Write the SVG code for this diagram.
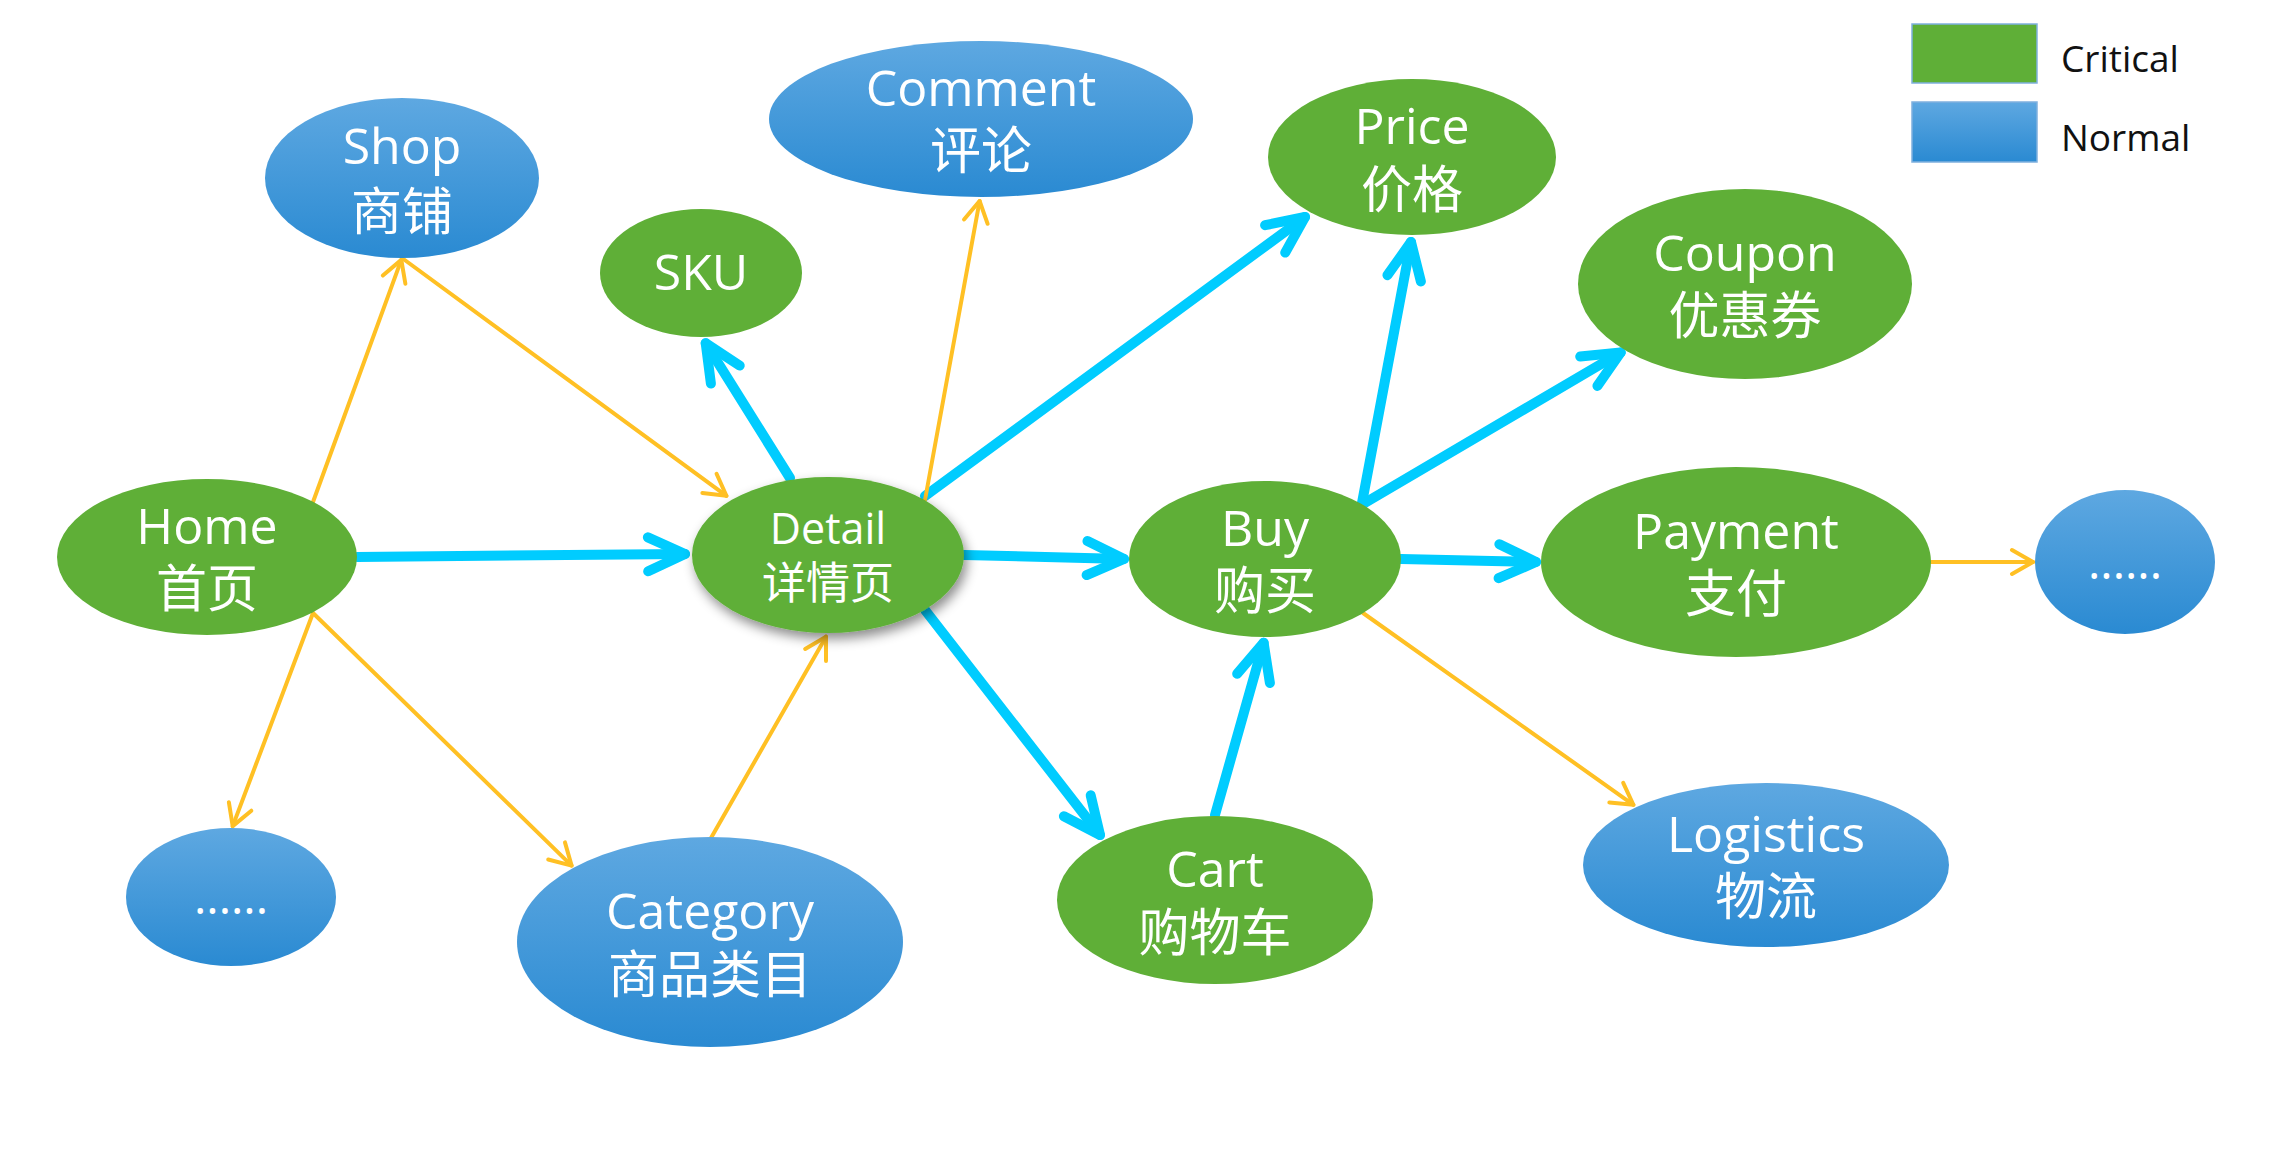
<svg xmlns="http://www.w3.org/2000/svg" width="2284" height="1158" viewBox="0 0 2284 1158">
  <style>
    .crit { fill: #5FAF37; }
    .norm { fill: url(#blueGrad); }
    .lbl { fill: #FFFFFF; font-family: 'Open Sans', 'Noto Sans CJK SC', sans-serif; text-anchor: middle; }
    .en { font-size: 50px; }
    .zh { font-size: 51px; font-family: 'Noto Sans CJK SC', sans-serif; }
    .blue { stroke: #00CCFF; stroke-width: 10; stroke-linecap: round; fill: none; marker-end: url(#ahBlue); }
    .gold { stroke: #FFC024; stroke-width: 4; stroke-linecap: round; fill: none; marker-end: url(#ahGold); }
    .leg { font-family: 'Open Sans', 'Liberation Sans', sans-serif; font-size: 37px; fill: #111111; }
  </style>
  <defs>
    <linearGradient id="blueGrad" x1="0" y1="0" x2="0" y2="1">
      <stop offset="0" stop-color="#5EA8E1"/>
      <stop offset="1" stop-color="#2A8AD2"/>
    </linearGradient>
    <filter id="shadow" x="-20%" y="-20%" width="150%" height="160%">
      <feDropShadow dx="3" dy="6" stdDeviation="6" flood-color="#000000" flood-opacity="0.45"/>
    </filter>
    <marker id="ahBlue" markerUnits="userSpaceOnUse" orient="auto" markerWidth="1" markerHeight="1" refX="0" refY="0" overflow="visible">
      <path d="M-37,-17 L0,0 L-37,17" fill="none" stroke="#00CCFF" stroke-width="10" stroke-linecap="round" stroke-linejoin="round"/>
    </marker>
    <marker id="ahGold" markerUnits="userSpaceOnUse" orient="auto" markerWidth="1" markerHeight="1" refX="0" refY="0" overflow="visible">
      <path d="M-21,-12 L0,0 L-21,12" fill="none" stroke="#FFC024" stroke-width="4" stroke-linecap="round" stroke-linejoin="round"/>
    </marker>
  </defs>

  <rect x="0" y="0" width="2284" height="1158" fill="#FFFFFF"/>

  <g id="connectors">
    <!-- critical (blue) -->
    <path class="blue" d="M357,557 L685,554"/>
    <path class="blue" d="M790,478 L705.7,343.2"/>
    <path class="blue" d="M925,496 L1305,217"/>
    <path class="blue" d="M964,555 L1124,559"/>
    <path class="blue" d="M925,610 L1100,835"/>
    <path class="blue" d="M1215,815 L1263.6,642.8"/>
    <path class="blue" d="M1362,503 L1411,242"/>
    <path class="blue" d="M1363,504 L1620.7,352.5"/>
    <path class="blue" d="M1401,559 L1536,562"/>
    <!-- normal (gold) -->
    <path class="gold" d="M313,502 L401.3,259.9"/>
    <path class="gold" d="M402,258 L726.4,495.8"/>
    <path class="gold" d="M313,613 L232.7,826.1"/>
    <path class="gold" d="M313,613 L571.6,865.6"/>
    <path class="gold" d="M711,838 L826,636.7"/>
    <path class="gold" d="M925,500 L979.6,201"/>
    <path class="gold" d="M1363,613 L1633.4,804.8"/>
    <path class="gold" d="M1931,562 L2033,562"/>
  </g>

  <g id="node-home">
    <ellipse class="crit" cx="207" cy="557" rx="150" ry="78"/>
    <text class="lbl"><tspan class="en" x="207" y="544">Home</tspan><tspan class="zh" x="207" y="607">首页</tspan></text>
  </g>

  <g id="node-shop">
    <ellipse class="norm" cx="402" cy="178" rx="137" ry="80"/>
    <text class="lbl"><tspan class="en" x="402" y="164">Shop</tspan><tspan class="zh" x="402" y="230">商铺</tspan></text>
  </g>

  <g id="node-sku">
    <ellipse class="crit" cx="701" cy="273" rx="101" ry="64"/>
    <text class="lbl en" x="701" y="290">SKU</text>
  </g>

  <g id="node-comment">
    <ellipse class="norm" cx="981" cy="119" rx="212" ry="78"/>
    <text class="lbl"><tspan class="en" x="981" y="106">Comment</tspan><tspan class="zh" x="981" y="169">评论</tspan></text>
  </g>

  <g id="node-price">
    <ellipse class="crit" cx="1412" cy="157" rx="144" ry="78"/>
    <text class="lbl"><tspan class="en" x="1412" y="144">Price</tspan><tspan class="zh" x="1412" y="208">价格</tspan></text>
  </g>

  <g id="node-coupon">
    <ellipse class="crit" cx="1745" cy="284" rx="167" ry="95"/>
    <text class="lbl"><tspan class="en" x="1745" y="271">Coupon</tspan><tspan class="zh" x="1745" y="334">优惠券</tspan></text>
  </g>

  <g id="node-detail">
    <ellipse class="crit" cx="828" cy="555" rx="136" ry="78" filter="url(#shadow)"/>
    <text class="lbl"><tspan x="828" y="544" style="font-size:43px">Detail</tspan><tspan x="828" y="599" style="font-size:44px;font-family:'Noto Sans CJK SC', sans-serif">详情页</tspan></text>
  </g>

  <g id="node-buy">
    <ellipse class="crit" cx="1265" cy="559" rx="136" ry="78"/>
    <text class="lbl"><tspan class="en" x="1265" y="546">Buy</tspan><tspan class="zh" x="1265" y="609">购买</tspan></text>
  </g>

  <g id="node-payment">
    <ellipse class="crit" cx="1736" cy="562" rx="195" ry="95"/>
    <text class="lbl"><tspan class="en" x="1736" y="549">Payment</tspan><tspan class="zh" x="1736" y="612">支付</tspan></text>
  </g>

  <g id="node-more-right">
    <ellipse class="norm" cx="2125" cy="562" rx="90" ry="72"/>
    <text class="lbl" x="2125" y="579" style="font-size:47px">......</text>
  </g>

  <g id="node-cart">
    <ellipse class="crit" cx="1215" cy="900" rx="158" ry="84"/>
    <text class="lbl"><tspan class="en" x="1215" y="887">Cart</tspan><tspan class="zh" x="1215" y="951">购物车</tspan></text>
  </g>

  <g id="node-logistics">
    <ellipse class="norm" cx="1766" cy="865" rx="183" ry="82"/>
    <text class="lbl"><tspan class="en" x="1766" y="852">Logistics</tspan><tspan class="zh" x="1766" y="915">物流</tspan></text>
  </g>

  <g id="node-category">
    <ellipse class="norm" cx="710" cy="942" rx="193" ry="105"/>
    <text class="lbl"><tspan class="en" x="710" y="929">Category</tspan><tspan class="zh" x="710" y="993">商品类目</tspan></text>
  </g>

  <g id="node-more-left">
    <ellipse class="norm" cx="231" cy="897" rx="105" ry="69"/>
    <text class="lbl" x="231" y="914" style="font-size:47px">......</text>
  </g>

  <g id="legend">
    <rect x="1912" y="24" width="125" height="59" class="crit" stroke="#7FB0DE" stroke-width="1.5"/>
    <text class="leg" x="2061" y="72">Critical</text>
    <rect x="1912" y="102" width="125" height="60" class="norm" stroke="#7FB0DE" stroke-width="1.5"/>
    <text class="leg" x="2061" y="151">Normal</text>
  </g>
</svg>
